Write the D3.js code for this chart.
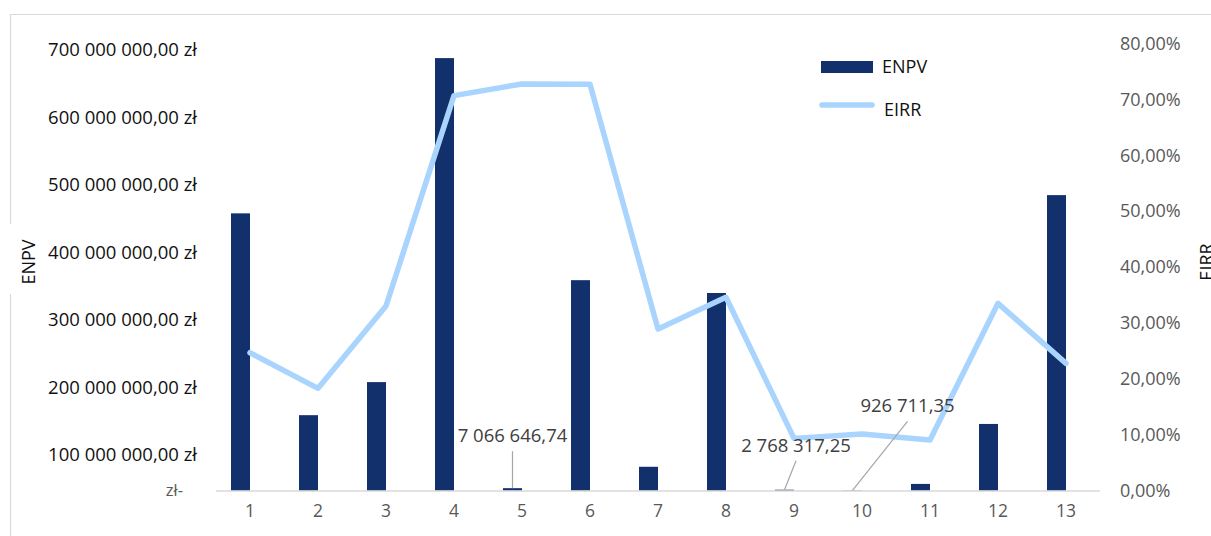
<!DOCTYPE html>
<html>
<head>
<meta charset="utf-8">
<script src="https://cdn.jsdelivr.net/npm/d3@7/dist/d3.min.js"></script>
<style>
  html, body { margin: 0; padding: 0; background: #fff; }
  svg { display: block; font-family: "Open Sans", "Noto Sans", sans-serif; }
</style>
</head>
<body>
<svg id="chart" width="1211" height="536"></svg>
<script>
// Project numbers shown on the category axis
const categories = ["1","2","3","4","5","6","7","8","9","10","11","12","13"];

// ENPV per project (zł)
const enpv = [458e6, 159e6, 208e6, 688e6, 7066646.74, 359e6, 67e6, 340e6, 2768317.25, 926711.35, 19e6, 146e6, 485e6];

// EIRR per project (fraction)
const eirr = [0.2468, 0.1831, 0.3304, 0.7068, 0.7277, 0.7272, 0.2892, 0.3460, 0.0936, 0.1013, 0.0906, 0.3352, 0.2278];

// Left axis tick values (zł) and right axis tick values (fraction)
const enpvTicks = [0, 1e8, 2e8, 3e8, 4e8, 5e8, 6e8, 7e8];
const eirrTicks = [0, 0.1, 0.2, 0.3, 0.4, 0.5, 0.6, 0.7, 0.8];

// Projects whose ENPV carries a value label
const labelledIdx = [4, 8, 9];

const svg = d3.select("#chart");

const x = d3.scaleBand().domain(categories).range([216, 1100]);
const yL = d3.scaleLinear().domain([0, 1e8, 7e8]).range([490.7, 455, 50]);
const yR = d3.scaleLinear().domain([0, 0.8]).range([490.7, 43.5]);

const barW = 19;
const cx = c => x(c) + x.bandwidth() / 2;

// chart frame
const frame = svg.append("g").attr("stroke", "#d9d9d9").attr("stroke-width", 1.2).attr("fill", "none");
frame.append("line").attr("x1", 10).attr("x2", 1211).attr("y1", 14.5).attr("y2", 14.5);
frame.append("line").attr("x1", 10.5).attr("x2", 10.5).attr("y1", 14).attr("y2", 224);
frame.append("line").attr("x1", 10.5).attr("x2", 10.5).attr("y1", 294).attr("y2", 536);

// bars
svg.append("g").selectAll("rect").data(enpv).join("rect")
  .attr("x", (d, i) => cx(categories[i]) - barW)
  .attr("width", barW)
  .attr("y", d => yL(d))
  .attr("height", d => yL(0) - yL(d))
  .attr("fill", "#12306b");

// baseline
svg.append("line").attr("x1", 216).attr("x2", 1100).attr("y1", 491).attr("y2", 491)
  .attr("stroke", "#d9d9d9").attr("stroke-width", 1.5);

// EIRR line
const line = d3.line().x((d, i) => cx(categories[i])).y(d => yR(d));
svg.append("path").datum(eirr).attr("d", line)
  .attr("fill", "none").attr("stroke", "#a9d4fe").attr("stroke-width", 5.5)
  .attr("stroke-linejoin", "round").attr("stroke-linecap", "round");

// left axis
const fmtNum = d3.formatLocale({decimal: ",", thousands: "\u00a0", grouping: [3]}).format(",.2f");
const axL = svg.append("g").attr("transform", "translate(200,0)")
  .call(d3.axisLeft(yL).tickValues(enpvTicks).tickSize(0).tickPadding(3)
    .tickFormat(d => d === 0 ? "zł-" : fmtNum(d).replace(/\u00a0/g, " ") + " zł"));
axL.select(".domain").remove();
axL.selectAll("text").attr("font-size", 18.5).attr("fill", "#111")
  .attr("font-family", "'Open Sans', sans-serif");
axL.selectAll(".tick").filter(d => d === 0).select("text")
  .attr("dx", -14).attr("fill", "#595959").attr("font-size", 16.5);

// right axis
const fmtPct = d => fmtNum(d * 100) + "%";
const axR = svg.append("g").attr("transform", "translate(1118,0)")
  .call(d3.axisRight(yR).tickValues(eirrTicks).tickSize(0).tickPadding(2).tickFormat(fmtPct));
axR.select(".domain").remove();
axR.selectAll("text").attr("font-size", 18).attr("fill", "#595959")
  .attr("font-family", "'Open Sans', sans-serif");

// category axis
const axB = svg.append("g").attr("transform", "translate(0,491)")
  .call(d3.axisBottom(x).tickSize(0).tickPadding(14));
axB.select(".domain").remove();
axB.selectAll("text").attr("font-size", 17.5).attr("fill", "#595959")
  .attr("font-family", "'Open Sans', sans-serif");

// axis titles
svg.append("text").attr("transform", "translate(35,262) rotate(-90)")
  .attr("text-anchor", "middle").attr("font-size", 18).attr("fill", "#111").text("ENPV");
svg.append("text").attr("transform", "translate(1213,262) rotate(-90)")
  .attr("text-anchor", "middle").attr("font-size", 18).attr("fill", "#111").text("EIRR");

// value labels with leader lines
const labelPos = {4: {dx: 0, top: 46}, 8: {dx: 11.5, top: 38}, 9: {dx: 55, top: 78}};
const lg = svg.append("g");
labelledIdx.forEach(i => {
  const bx = cx(categories[i]) - barW / 2;
  const by = yL(enpv[i]);
  const p = labelPos[i];
  const tx = bx + p.dx, ty = by - p.top;
  lg.append("line").attr("x1", tx).attr("y1", ty + 9).attr("x2", bx).attr("y2", by)
    .attr("stroke", "#a6a6a6").attr("stroke-width", 1.2);
  lg.append("text").attr("x", tx).attr("y", ty).attr("text-anchor", "middle")
    .attr("font-size", 18.5).attr("fill", "#404040")
    .text(fmtNum(enpv[i]).replace(/\u00a0/g, " "));
});

// legend
const leg = svg.append("g");
leg.append("rect").attr("x", 821).attr("y", 61).attr("width", 52).attr("height", 12).attr("fill", "#12306b");
leg.append("text").attr("x", 882).attr("y", 67).attr("dy", "0.35em").attr("font-size", 18).attr("fill", "#111").text("ENPV");
leg.append("line").attr("x1", 822).attr("x2", 872).attr("y1", 105).attr("y2", 105)
  .attr("stroke", "#a9d4fe").attr("stroke-width", 5.5).attr("stroke-linecap", "round");
leg.append("text").attr("x", 884).attr("y", 110).attr("dy", "0.35em").attr("font-size", 18).attr("fill", "#111").text("EIRR");
</script>
</body>
</html>
